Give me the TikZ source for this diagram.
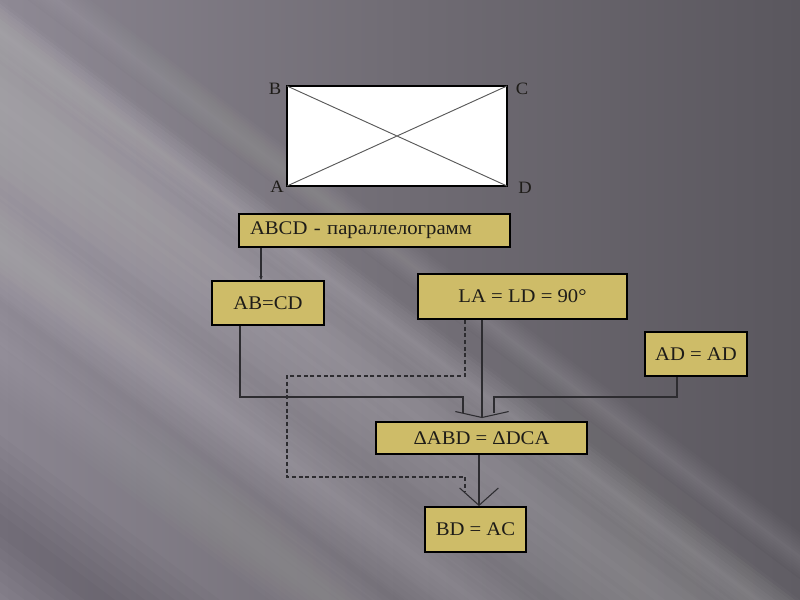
\documentclass[tikz,border=0pt]{standalone}
\usepackage{fontspec}
\setmainfont[FakeStretch=1.07]{Liberation Serif}
\usetikzlibrary{arrows.meta}
\definecolor{bgL}{RGB}{138,133,144}
\definecolor{bgM}{RGB}{112,108,116}
\definecolor{bgR}{RGB}{90,87,94}
\definecolor{gold}{RGB}{206,188,104}
\definecolor{ink}{RGB}{30,28,24}
\definecolor{wire}{RGB}{45,44,48}
\tikzset{
  box/.style={draw=black, fill=gold, line width=1.4pt, inner sep=0pt, text=ink,
    font=\fontsize{14.5pt}{16pt}\selectfont},
  wirel/.style={draw=wire, line width=0.8pt},
  dashl/.style={draw=wire, line width=0.8pt, dash pattern=on 3pt off 2pt},
  lbl/.style={text=ink, font=\fontsize{13pt}{14pt}\selectfont, inner sep=0pt},
  flatbarb/.style={-{Straight Barb[length=4.5pt, width=40pt]}},
  bigbarb/.style={-{Straight Barb[length=13pt, width=29pt]}},
  smallarr/.style={-{Stealth[length=3pt, width=2.5pt]}}
}
\begin{document}
\begin{tikzpicture}[x=0.75pt, y=-0.75pt]
\useasboundingbox (0,0) rectangle (800,600);
% background
\shade[left color=bgL, right color=bgR, middle color=bgM] (0,0) rectangle (800,600);
\begin{scope}
\clip (0,0) rectangle (800,600);
% soft light band (offset c, half width w): polygon (c-w,0)(c+w,0)(c+w+800,600)(c-w+800,600)
\foreach \c/\w/\o in {-200/260/0.018, -130/120/0.02, -330/70/0.02, -40/40/0.02, 60/30/0.015, -470/60/0.015}{
  \foreach \k in {1,...,8}{
    \pgfmathsetmacro\ww{\w*\k/8}
    \fill[white, opacity=\o] ({\c-\ww},0) -- ({\c+\ww},0) -- ({\c+\ww+800},600) -- ({\c-\ww+800},600) -- cycle;
  }
}
\foreach \k in {1,...,8}{
  \pgfmathsetmacro\ww{120*\k/8}
  \fill[black, opacity=0.02] ({-700-\ww},0) -- ({-700+\ww},0) -- ({100+\ww},600) -- ({100-\ww},600) -- cycle;
}
\end{scope}
% rectangle ABCD
\coordinate (A) at (287,186);
\coordinate (B) at (287,86);
\coordinate (C) at (507,86);
\coordinate (D) at (507,186);
\draw[line width=1.5pt, fill=white] (A) -- (B) -- (C) -- (D) -- cycle;
\draw[draw=black!65, line width=0.7pt] (A) -- (C) (B) -- (D);
\node[lbl] (lB) at (275,89) {B};
\node[lbl] (lC) at (522,89) {C};
\node[lbl] (lA) at (277,187) {A};
\node[lbl] (lD) at (525,188) {D};
% boxes
\node[box, text width=186.75pt, inner xsep=8.25pt, minimum height=24.75pt, align=left] (b1) at (374.5,230.5) {ABCD - параллелограмм};
\node[box, minimum width=84pt, minimum height=33pt] (b2) at (268,303) {AB=CD};
\node[box, minimum width=156.75pt, minimum height=33.75pt] (b3) at (522.5,296.5) {LA = LD = 90°};
\node[box, minimum width=76.5pt, minimum height=33pt] (b4) at (696,354) {AD = AD};
\node[box, minimum width=158.25pt, minimum height=24pt] (b5) at (481.5,438) {ΔABD = ΔDCA};
\node[box, minimum width=75.75pt, minimum height=33.75pt] (b6) at (475.5,529.5) {BD = AC};
% connector anchors (x positions)
\coordinate (x1) at (261,0);
\coordinate (x2) at (240,0);
\coordinate (x3) at (482,0);
\coordinate (x4) at (677,0);
\coordinate (x5) at (465,0);
\coordinate (x6) at (479,0);
\coordinate (j1) at (463,397);
\coordinate (j2) at (494,397);
\coordinate (d1) at (465,376);
\coordinate (d2) at (287,477);
% connectors
\draw[wirel, smallarr] (b1.south -| x1) -- (b2.north -| x1);
\draw[wirel] (b2.south -| x2) |- (j1) -- ++(0,16);
\draw[wirel] (b4.south -| x4) |- (j2) -- ++(0,16);
\draw[wirel, flatbarb] (b3.south -| x3) -- ([yshift=2.25pt]b5.north -| x3);
\draw[dashl] (b3.south -| x5) -- (d1) -| (d2) -| ([yshift=10.5pt]b6.north -| x5);
\draw[wirel, bigbarb] (b5.south -| x6) -- (b6.north -| x6);
\end{tikzpicture}
\end{document}
